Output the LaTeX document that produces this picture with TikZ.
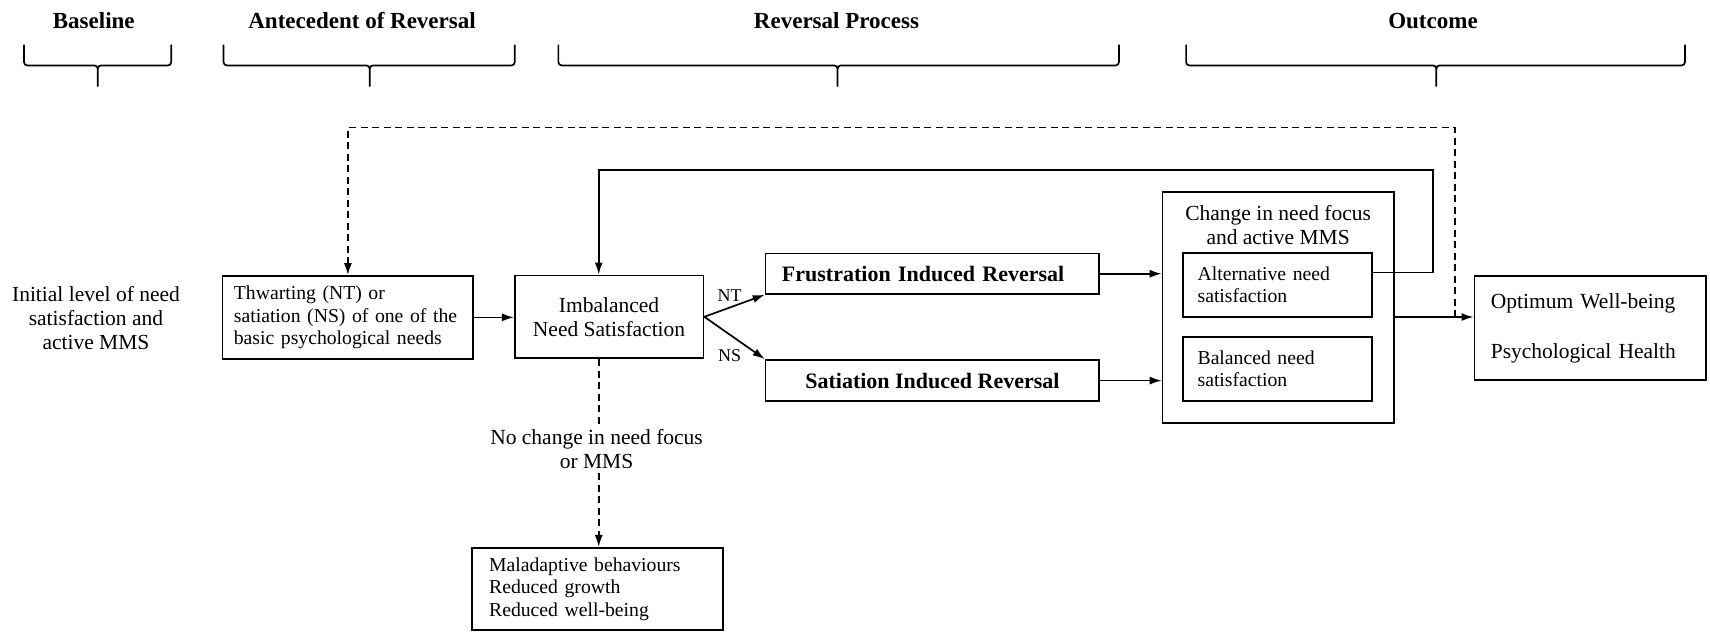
\documentclass[tikz,border=0pt]{standalone}
\usepackage{fontspec}
\setmainfont{Liberation Serif}
\usetikzlibrary{arrows.meta}
\newcommand\myfontL{\fontsize{21.5pt}{24pt}\selectfont}
\newcommand\myfontS{\fontsize{19.7pt}{22.5pt}\selectfont}
\newcommand\myfontB{\fontsize{22pt}{24pt}\selectfont\bfseries}
\newcommand\myfontH{\fontsize{23pt}{26pt}\selectfont\bfseries}
\newcommand\myfontN{\fontsize{18pt}{20pt}\selectfont}
\newcommand\mybrace[3]{%
  \draw[brc] (#1,41) -- (#1,57) to[out=-90,in=180] (#1+3,60) -- (#2-3,60) to[out=0,in=90] (#2,63) -- (#2,79.5);
  \draw[brc] (#3,41) -- (#3,57) to[out=-90,in=0] (#3-3,60) -- (#2+3,60) to[out=180,in=90] (#2,63);
}
\begin{document}
\begin{tikzpicture}[x=1.0906pt,y=-1.0906pt,line width=1.7pt,
  box/.style={draw,inner ysep=0pt},
  arr/.style={-{Latex[length=12pt,width=8pt]}},
  dsh/.style={dash pattern=on 7pt off 4.5pt},
  hdr/.style={font=\myfontH,inner sep=0pt},
  brc/.style={line width=1.7pt}]
\useasboundingbox (0,0) rectangle (1568,579);

% headers
\node[hdr] (h1) at (86,19) {Baseline};
\node[hdr] (h2) at (332,19) {Antecedent of Reversal};
\node[hdr] (h3) at (767,19) {Reversal Process};
\node[hdr] (h4) at (1314,19) {Outcome};
\mybrace{22}{89.6}{157}
\mybrace{205}{339}{472}
\mybrace{512}{768}{1026}
\mybrace{1087.6}{1317}{1545}

% nodes
\node[font=\myfontL,align=center] (init) at (88,292) {Initial level of need\\satisfaction and\\active MMS};
\node[box,font=\myfontS,align=left,text width=228pt,inner xsep=11.4pt,minimum height=82.9pt] (thw) at (319,291) {Thwarting (NT) or\\satiation (NS) of one of the\\basic psychological needs};
\node[box,font=\myfontL,align=center,minimum width=188.7pt,minimum height=82.9pt] (imb) at (558.5,290.5) {Imbalanced\\Need Satisfaction};
\node[box,font=\myfontB,align=left,text width=300.9pt,inner xsep=16.4pt,minimum height=40.4pt] (fru) at (855,251) {Frustration Induced Reversal};
\node[box,font=\myfontB,minimum width=333.7pt,minimum height=41.4pt] (sat) at (855,349) {Satiation Induced Reversal};
\node[box,minimum width=231.2pt,minimum height=231.2pt] (chg) at (1172,282) {};
\node[font=\myfontL,align=center] (chgt) at (1172,206) {Change in need focus\\and active MMS};
\node[box,font=\myfontS,align=left,text width=160pt,inner xsep=14.3pt,minimum height=63.8pt] (alt) at (1171.5,261.3) {Alternative need\\satisfaction};
\node[box,font=\myfontS,align=left,text width=160pt,inner xsep=14.3pt,minimum height=63.8pt] (bal) at (1171.5,338.3) {Balanced need\\satisfaction};
\node[box,font=\myfontL,align=left,text width=198.5pt,inner xsep=16.4pt,minimum height=104.2pt] (opt) at (1458,300.7) {Optimum Well-being\\[26pt]Psychological Health};
\node[box,font=\myfontS,align=left,text width=217pt,inner xsep=16.8pt,minimum height=82.2pt] (mal) at (548,540) {Maladaptive behaviours\\Reduced growth\\Reduced well-being};
\node[font=\myfontL,align=center] (noch) at (547,412) {No change in need focus\\or MMS};
\node[font=\myfontN] (nt) at (669,271.5) {NT};
\node[font=\myfontN] (ns) at (669,326) {NS};

% coordinates
\coordinate (j) at (1334,290.7);
\coordinate (dt) at (1334,117);
\coordinate (sr) at (1314,250);
\coordinate (st) at (1314,156);
\coordinate (il) at (549,156);

% connectors
\draw[arr] (thw.east) -- (thw.east -| imb.west);
\draw[arr] (imb.east) -- (fru.south west);
\draw[arr] (imb.east) -- (sat.north west);
\draw[arr] (fru.east) -- (fru.east -| chg.west);
\draw[arr] (sat.east) -- (sat.east -| chg.west);
\draw[arr] (chg.east |- j) -- (opt.west |- j);
\draw[arr,dsh] (j) -- (dt) -| (thw.north);
\draw[arr] (alt.east |- sr) -- (sr) -- (st) -- (il) -- (il |- imb.north);
\draw[dsh] (il |- imb.south) -- (il |- noch.north);
\draw[arr,dsh] (il |- noch.south) -- (il |- mal.north);
\end{tikzpicture}
\end{document}
